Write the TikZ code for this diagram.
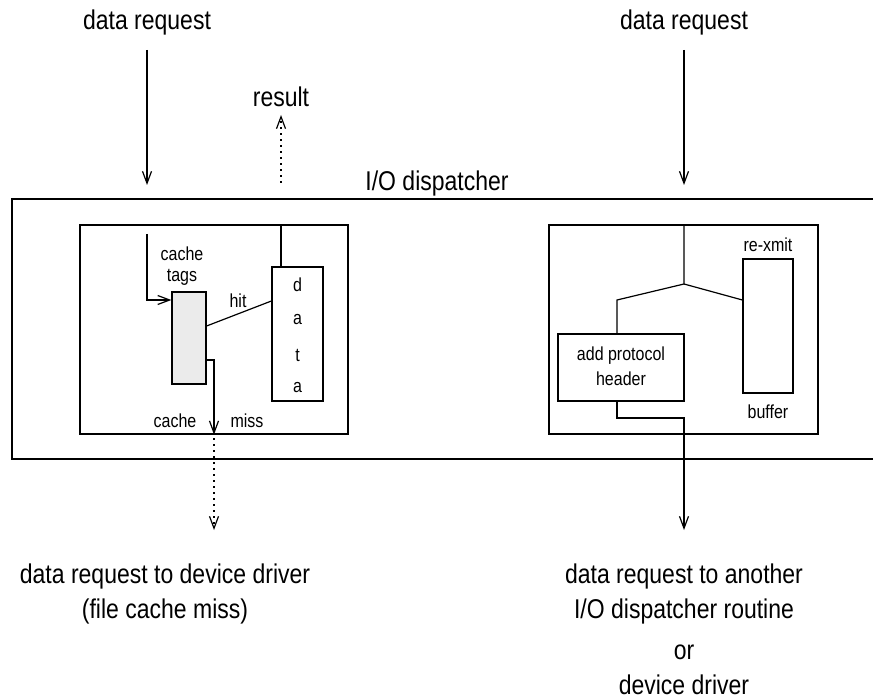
\documentclass[tikz,border=0pt]{standalone}
\usepackage{fontspec}
\setmainfont{Liberation Sans}
\usetikzlibrary{arrows.meta,calc}
\newcommand{\vst}[1]{\scalebox{1}[1.18]{#1}}
\begin{document}
\begin{tikzpicture}[x=0.5pt,y=-0.5pt,
  line width=0.6pt,
  >={Straight Barb[length=6pt,width=4.5pt,line width=0.6pt]},
  big/.style={font=\fontsize{11.5}{14}\selectfont, inner sep=0pt},
  small/.style={font=\fontsize{8}{10}\selectfont, inner sep=0pt},
  box/.style={draw, inner sep=0pt, minimum width=#1},
  dots/.style={dash pattern=on 0.8pt off 2.2pt}]
\useasboundingbox (0,0) rectangle (873,700);
% outer dispatcher box (open at the right)
\draw (873,199) -- (12,199) -- (12,459) -- (873,459);
\node[big] (disp) at (437,183) {\vst{I/O dispatcher}};
% top labels
\node[big] (reqL) at (147,22) {\vst{data request}};
\node[big] (reqR) at (684,22) {\vst{data request}};
\node[big] (res) at (281,97) {\vst{result}};
\coordinate (reqLend) at (147,185);
\coordinate (reqRend) at (684,185);
\coordinate (resstart) at (281,183);
\draw[->] (147,50) -- (reqLend);
\draw[->] (684,50) -- (reqRend);
\draw[->,dots] (resstart) -- (281,115);
% left inner box
\node[box=268pt/2, minimum height=209pt/2] (lbox) at (214,329.5) {};
\node[box=34pt/2, minimum height=92pt/2, fill=black!8] (tags) at (189,338) {};
\node[box=51pt/2, minimum height=134pt/2, small] (data) at (297.5,334) {};
\node[small] (d1) at (297.5,285) {\vst{d}};
\node[small] (d2) at (297.5,320) {\vst{a}};
\node[small] (d3) at (297.5,355) {\vst{t}};
\node[small] (d4) at (297.5,388) {\vst{a}};
\node[small] (tagslbl1) at (182,254) {\vst{cache}};
\node[small] (tagslbl2) at (182,277) {\vst{tags}};
\node[small] (hit) at (238,301) {\vst{hit}};
\node[small] (cachel) at (175,421) {\vst{cache}};
\node[small] (missl) at (247,421) {\vst{miss}};
\coordinate (datatop) at (281,267);
\draw (datatop) -- (datatop |- lbox.north);
\coordinate (inA) at (147,234);
\draw[->] (inA) -- (147,300) -- ([yshift=19pt]tags.west);
\draw ([yshift=6pt]tags.east) -- ([yshift=16.5pt]data.west);
\coordinate (missx) at (214,360);
\draw[->] ([yshift=-11pt]tags.east) -- (missx) -- (missx |- lbox.south);
\coordinate (dotA) at (214,438);
\coordinate (dotB) at (214,530);
\draw[->,dots] (dotA) -- (dotB);
\node[big] (botL1) at (165,576) {\vst{data request to device driver}};
\node[big] (botL2) at (165,611) {\vst{(file cache miss)}};
% right inner box
\node[box=269pt/2, minimum height=209pt/2] (rbox) at (683.5,329.5) {};
\node[box=50pt/2, minimum height=134pt/2] (buf) at (768,326) {};
\node[box=126pt/2, minimum height=67pt/2] (aph) at (621,367.5) {};
\node[small] (aph1) at (621,356) {\vst{add protocol}};
\node[small] (aph2) at (621,379) {\vst{header}};
\node[small] (rex) at (768,245) {\vst{re-xmit}};
\node[small] (bufl) at (768,412) {\vst{buffer}};
\coordinate (split) at (684,284);
\coordinate (lk) at (617,300);
\draw (split |- rbox.north) -- (split) -- (lk) -- (lk |- aph.north);
\draw (split) -- ([yshift=13pt]buf.west);
\coordinate (o1) at (617,418);
\coordinate (o2) at (684,418);
\coordinate (oend) at (684,530);
\draw[->] (o1 |- aph.south) -- (o1) -- (o2) -- (oend);
\node[big] (botR1) at (684,576) {\vst{data request to another}};
\node[big] (botR2) at (684,611) {\vst{I/O dispatcher routine}};
\node[big] (botR3) at (684,652) {\vst{or}};
\node[big] (botR4) at (684,685) {\vst{device driver}};
\end{tikzpicture}
\end{document}
